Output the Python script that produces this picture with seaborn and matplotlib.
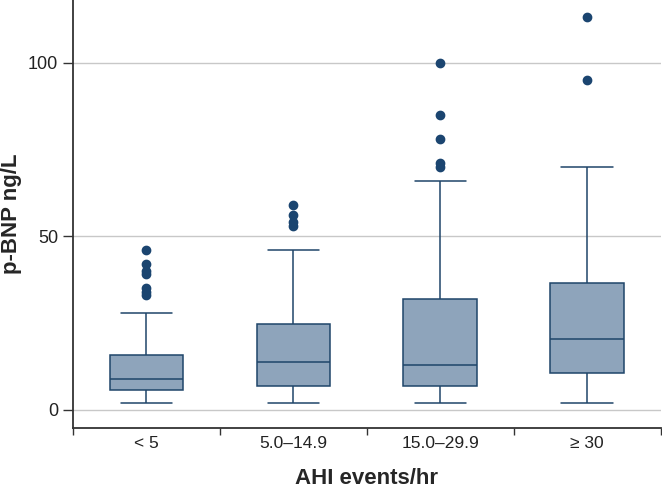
import numpy as np
import pandas as pd
import matplotlib.pyplot as plt
import seaborn as sns

# ------------------------------------------------------------
# data: p-BNP values (ng/L) per AHI category
# ------------------------------------------------------------
categories = ["< 5", "5.0\u201314.9", "15.0\u201329.9", "\u2265 30"]

ahi_lt5 = [2, 2.5, 3, 3.5, 4, 4.5, 5, 5.4, 5.8, 6.2, 6.5, 7, 7.4, 7.8, 8.2, 8.6,
           8.9, 9.5, 10, 11, 12, 13, 14, 15, 15.8,
           28, 33, 34, 35, 39, 40, 42, 46]
ahi_5_15 = [2, 3, 4, 5, 6, 6.9, 8, 10, 11.5, 12.8, 13.8, 16, 18.5, 21, 23, 24.8,
            46, 53, 54, 56, 59]
ahi_15_30 = [2, 3, 4, 5, 5.8, 6.4, 6.9, 8, 9, 10.5, 11.5, 12.3, 13, 15, 18, 21, 25,
             29, 32, 66, 70, 71, 78, 85, 100]
ahi_ge30 = [2, 4, 6, 8, 10.7, 13, 15.5, 18, 20.5, 24, 28, 32, 36.6, 52, 70, 95, 113]

groups = [ahi_lt5, ahi_5_15, ahi_15_30, ahi_ge30]
df = pd.DataFrame({
    "AHI": np.repeat(categories, [len(g) for g in groups]),
    "BNP": np.concatenate(groups),
})

fill = "#8ea4bb"
edge = "#1f4569"
dot = "#1b4570"

# ------------------------------------------------------------
# plot
# ------------------------------------------------------------
sns.set_style("white")
plt.rcParams["font.family"] = ["Liberation Sans Narrow", "Liberation Sans", "DejaVu Sans"]

fig = plt.figure(figsize=(6.62, 4.92), dpi=100)
ax = fig.add_axes([0.110, 0.130, 0.888, 0.870])

sns.boxplot(data=df, x="AHI", y="BNP", order=categories, ax=ax,
            width=0.5, color=fill, linecolor=edge, linewidth=1.1,
            capwidths=0.35,
            boxprops=dict(facecolor=fill, edgecolor=edge),
            flierprops=dict(marker="o", markersize=6, markerfacecolor=dot,
                            markeredgecolor=dot))

ax.set_xlim(-0.5, 3.5)
ax.set_ylim(-5.2, 118)
ax.set_yticks([0, 50, 100])
ax.yaxis.grid(True, color="#c8c8c8", linewidth=1)
ax.set_axisbelow(True)

# ticks between categories on the x axis
ax.set_xticks([-0.5, 0.5, 1.5, 2.5, 3.5], minor=True)
ax.tick_params(axis="x", which="major", length=0, labelsize=12.5, pad=6,
               labelcolor="#222222")
ax.tick_params(axis="x", which="minor", length=5, width=1, color="#333333",
               direction="out", bottom=True)
ax.tick_params(axis="y", length=7, width=1, color="#333333", direction="out",
               labelsize=13, labelcolor="#222222", left=True)

for side in ["top", "right"]:
    ax.spines[side].set_visible(False)
for side in ["left", "bottom"]:
    ax.spines[side].set_color("#333333")
    ax.spines[side].set_linewidth(1.3)

ax.set_xlabel("AHI events/hr", fontsize=16, fontweight="bold",
              family=["Liberation Sans", "DejaVu Sans"], labelpad=12)
ax.set_ylabel("p-BNP ng/L", fontsize=16, fontweight="bold",
              family=["Liberation Sans", "DejaVu Sans"], labelpad=4)

plt.savefig("out.png", dpi=100)
